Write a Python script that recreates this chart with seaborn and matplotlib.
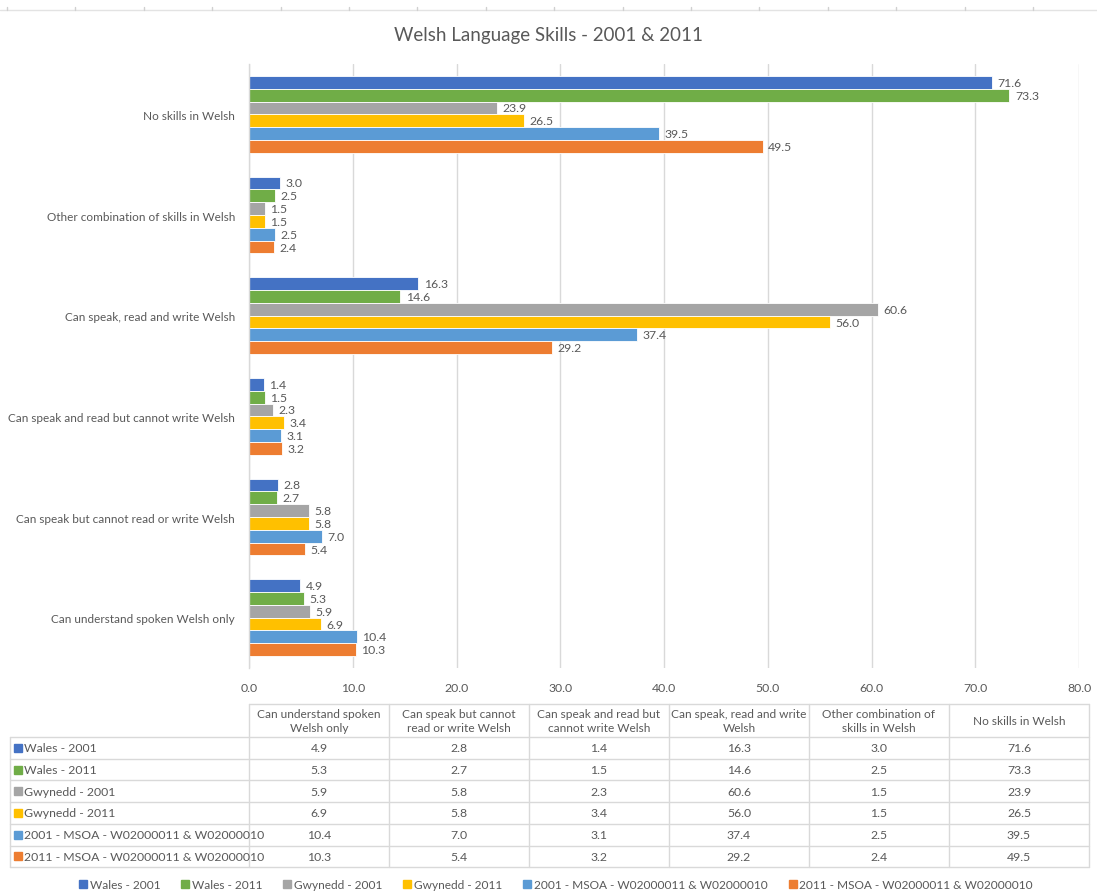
import matplotlib
matplotlib.use("Agg")
import matplotlib.pyplot as plt
from matplotlib.lines import Line2D
import seaborn as sns
import pandas as pd

# Skill categories (table order; the chart draws the last one at the top)
categories = [
    "Can understand spoken Welsh only",
    "Can speak but cannot read or write Welsh",
    "Can speak and read but cannot write Welsh",
    "Can speak, read and write Welsh",
    "Other combination of skills in Welsh",
    "No skills in Welsh",
]
table_headers = [
    "Can understand spoken\nWelsh only",
    "Can speak but cannot\nread or write Welsh",
    "Can speak and read but\ncannot write Welsh",
    "Can speak, read and write\nWelsh",
    "Other combination of\nskills in Welsh",
    "No skills in Welsh",
]
series_names = [
    "Wales - 2001",
    "Wales - 2011",
    "Gwynedd - 2001",
    "Gwynedd - 2011",
    "2001 - MSOA - W02000011 & W02000010",
    "2011 - MSOA - W02000011 & W02000010",
]
wales_2001 = [4.9, 2.8, 1.4, 16.3, 3.0, 71.6]
wales_2011 = [5.3, 2.7, 1.5, 14.6, 2.5, 73.3]
gwynedd_2001 = [5.9, 5.8, 2.3, 60.6, 1.5, 23.9]
gwynedd_2011 = [6.9, 5.8, 3.4, 56.0, 1.5, 26.5]
msoa_2001 = [10.4, 7.0, 3.1, 37.4, 2.5, 39.5]
msoa_2011 = [10.3, 5.4, 3.2, 29.2, 2.4, 49.5]
series_values = [wales_2001, wales_2011, gwynedd_2001, gwynedd_2011, msoa_2001, msoa_2011]
x_ticks = [0, 10, 20, 30, 40, 50, 60, 70, 80]

colors = ["#4472C4", "#70AD47", "#A5A5A5", "#FFC000", "#5B9BD5", "#ED7D31"]
text_col = "#595959"
line_col = "#D9D9D9"

rows = []
for name, vals in zip(series_names, series_values):
    for cat, v in zip(categories, vals):
        rows.append({"Skill": cat, "Series": name, "Value": v})
df = pd.DataFrame(rows)

sns.set_theme(style="white")
plt.rcParams["font.family"] = ["Lato", "DejaVu Sans"]

W, H = 1097, 895
fig = plt.figure(figsize=(W / 100, H / 100), dpi=100)
fig.patch.set_facecolor("white")

# Main bar chart area
ax = fig.add_axes([249 / W, 1 - 669 / H, (1079 - 249) / W, (669 - 65) / H])
sns.barplot(
    data=df, y="Skill", x="Value", hue="Series",
    order=categories[::-1], hue_order=series_names,
    palette=colors, saturation=1, orient="h", width=0.764, gap=0,
    edgecolor="white", linewidth=0.6, errorbar=None, ax=ax, legend=False,
)
for cont in ax.containers:
    ax.bar_label(cont, fmt="%.1f", padding=4, fontsize=8.8, color=text_col)

ax.set_xlim(0, 80)
ax.set_xticks(x_ticks)
ax.set_xticklabels([f"{t:.1f}" for t in x_ticks], fontsize=8.8, color=text_col)
ax.tick_params(axis="x", length=0, pad=10)
ax.tick_params(axis="y", length=0, pad=10, labelsize=8.5, labelcolor=text_col)
ax.set_xlabel("")
ax.set_ylabel("")
ax.grid(axis="x", color=line_col, linewidth=1)
ax.set_axisbelow(True)
for s in ["top", "right", "bottom"]:
    ax.spines[s].set_visible(False)
ax.spines["left"].set_color(line_col)
ax.spines["left"].set_linewidth(1)

# Overlay in pixel coordinates for the title, data table and sheet line
ov = fig.add_axes([0, 0, 1, 1], zorder=-1)
ov.set_xlim(0, W)
ov.set_ylim(H, 0)
ov.axis("off")

# Spreadsheet gridline along the top edge
ov.plot([0, W], [11, 11], color="#E3E3E3", lw=1)
x = 7
while x < W:
    ov.plot([x, x], [8, 11], color="#D0D0D0", lw=1)
    x += 68.4

ov.text(W / 2, 35, "Welsh Language Skills - 2001 & 2011", ha="center", va="center",
        fontsize=13.5, color=text_col)

# Data table
col_left = 249
col_w = 140
n_cols = len(categories)
col_edges = [col_left + i * col_w for i in range(n_cols + 1)]
hdr_top, hdr_bot = 705, 738
row_h = 21.7
label_left = 10
row_edges = [hdr_bot + i * row_h for i in range(len(series_names) + 1)]
tbl_bot = row_edges[-1]

ov.plot([col_left, col_edges[-1]], [hdr_top, hdr_top], color=line_col, lw=1)
for xe in col_edges:
    ov.plot([xe, xe], [hdr_top, tbl_bot], color=line_col, lw=1)
ov.plot([label_left, label_left], [hdr_bot, tbl_bot], color=line_col, lw=1)
for ye in row_edges:
    ov.plot([label_left, col_edges[-1]], [ye, ye], color=line_col, lw=1)

for i, h in enumerate(table_headers):
    ov.text(col_edges[i] + col_w / 2, (hdr_top + hdr_bot) / 2, h, ha="center", va="center",
            fontsize=8.6, color=text_col, linespacing=1.25)

for r, (name, vals, c) in enumerate(zip(series_names, series_values, colors)):
    yc = row_edges[r] + row_h / 2
    ov.plot([label_left + 8], [yc], marker="s", ms=5.5, color=c, mec=c)
    ov.text(label_left + 14, yc, name, ha="left", va="center", fontsize=8.8, color=text_col)
    for i, v in enumerate(vals):
        ov.text(col_edges[i] + col_w / 2, yc, f"{v:.1f}", ha="center", va="center",
                fontsize=8.8, color=text_col)

# Legend
handles = [Line2D([], [], marker="s", ls="", ms=5.5, color=c, mec=c) for c in colors]
fig.legend(handles, series_names, loc="center", bbox_to_anchor=(555 / W, 1 - 886 / H),
           ncol=6, frameon=False, fontsize=8.6, labelcolor=text_col,
           handletextpad=0.05, columnspacing=1.6, handlelength=1.0)

fig.savefig("out.png", dpi=100, facecolor="white")
